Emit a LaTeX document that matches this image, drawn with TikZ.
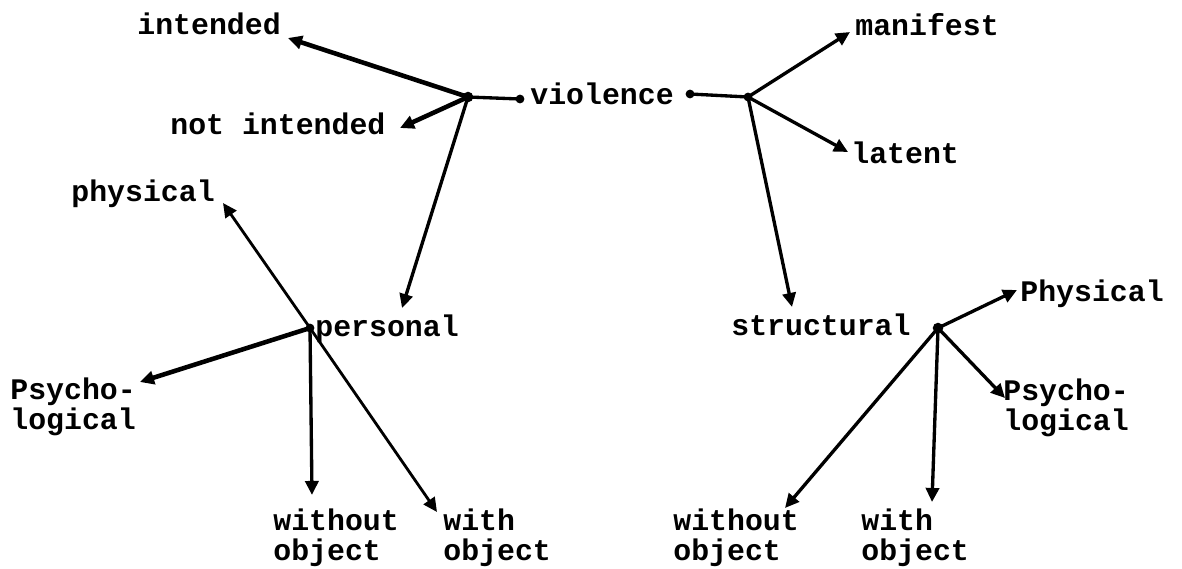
\documentclass[tikz,border=0pt]{standalone}
\usepackage{fontspec}
\setmonofont{Liberation Mono}
\usetikzlibrary{arrows.meta}
\newcommand{\twolines}[2]{\begin{tabular}[t]{@{}l@{}}#1\\#2\end{tabular}}
\begin{document}
\begin{tikzpicture}[x=0.02cm,y=-0.02cm,
  lbl/.style={anchor=base west,inner sep=0pt,font=\fontsize{17}{15.9}\selectfont\ttfamily\bfseries},
  hub/.style={circle,fill=black,inner sep=0pt,minimum size=5pt},
  conn/.style={line width=1.9pt},
  arr/.style={line width=1.9pt,-{Triangle[length=8pt,width=7.5pt]}},
  heavy/.style={arr,line width=2.6pt}]
\useasboundingbox (0,0) rectangle (1182,568);
% labels
\node[lbl] (intended) at (137,34) {intended};
\node[lbl] (notint) at (170,134) {not intended};
\node[lbl] (violence) at (530,104) {violence};
\node[lbl] (manifest) at (855,35) {manifest};
\node[lbl] (latent) at (851,163) {latent};
\node[lbl] (physical) at (71,201) {physical};
\node[lbl] (personal) at (315,336) {personal};
\node[lbl] (psychoL) at (10,399) {\twolines{Psycho-}{logical}};
\node[lbl] (woL) at (273,530) {\twolines{without}{object}};
\node[lbl] (wL) at (443,530) {\twolines{with}{object}};
\node[lbl] (structural) at (731,335) {structural};
\node[lbl] (physR) at (1020,301) {Physical};
\node[lbl] (psychoR) at (1003,400) {\twolines{Psycho-}{logical}};
\node[lbl] (woR) at (673,530) {\twolines{without}{object}};
\node[lbl] (wR) at (861,530) {\twolines{with}{object}};
% hubs and dots
\node[hub,minimum size=6pt] (h1) at (468,97) {};
\node[hub] (vL) at (520,99) {};
\node[hub] (vR) at (690,94) {};
\node[hub] (h2) at (748,97) {};
\node[hub] (p) at (310,328) {};
\node[hub,minimum size=6pt] (s) at (938,328) {};
% arrow tips
\coordinate (tInt) at (288,38);
\coordinate (tNot) at (400,128);
\coordinate (tPers) at (402,308);
\coordinate (tMan) at (850,32);
\coordinate (tLat) at (848,152);
\coordinate (tStr) at (792,307);
\coordinate (tPhys) at (223,203);
\coordinate (tPsyL) at (140,382);
\coordinate (tWoL) at (312,495);
\coordinate (tWL) at (437,512);
\coordinate (tPhysR) at (1017,290);
\coordinate (tPsyR) at (1005,398);
\coordinate (tWoR) at (785,508);
\coordinate (tWR) at (932,502);
% connectors
\draw[conn] (h1.center) -- (vL.center);
\draw[conn] (vR.center) -- (h2.center);
\draw[heavy] (h1.center) -- (tInt);
\draw[heavy] (h1.center) -- (tNot);
\draw[arr] (h1.center) -- (tPers);
\draw[arr] (h2.center) -- (tMan);
\draw[arr] (h2.center) -- (tLat);
\draw[arr] (h2.center) -- (tStr);
\draw[arr,line width=1.6pt] (p.center) -- (tPhys);
\draw[heavy] (p.center) -- (tPsyL);
\draw[arr] (p.center) -- (tWoL);
\draw[arr,line width=1.6pt] (p.center) -- (tWL);
\draw[arr] (s.center) -- (tPhysR);
\draw[arr] (s.center) -- (tPsyR);
\draw[arr] (s.center) -- (tWoR);
\draw[arr] (s.center) -- (tWR);
\end{tikzpicture}
\end{document}
